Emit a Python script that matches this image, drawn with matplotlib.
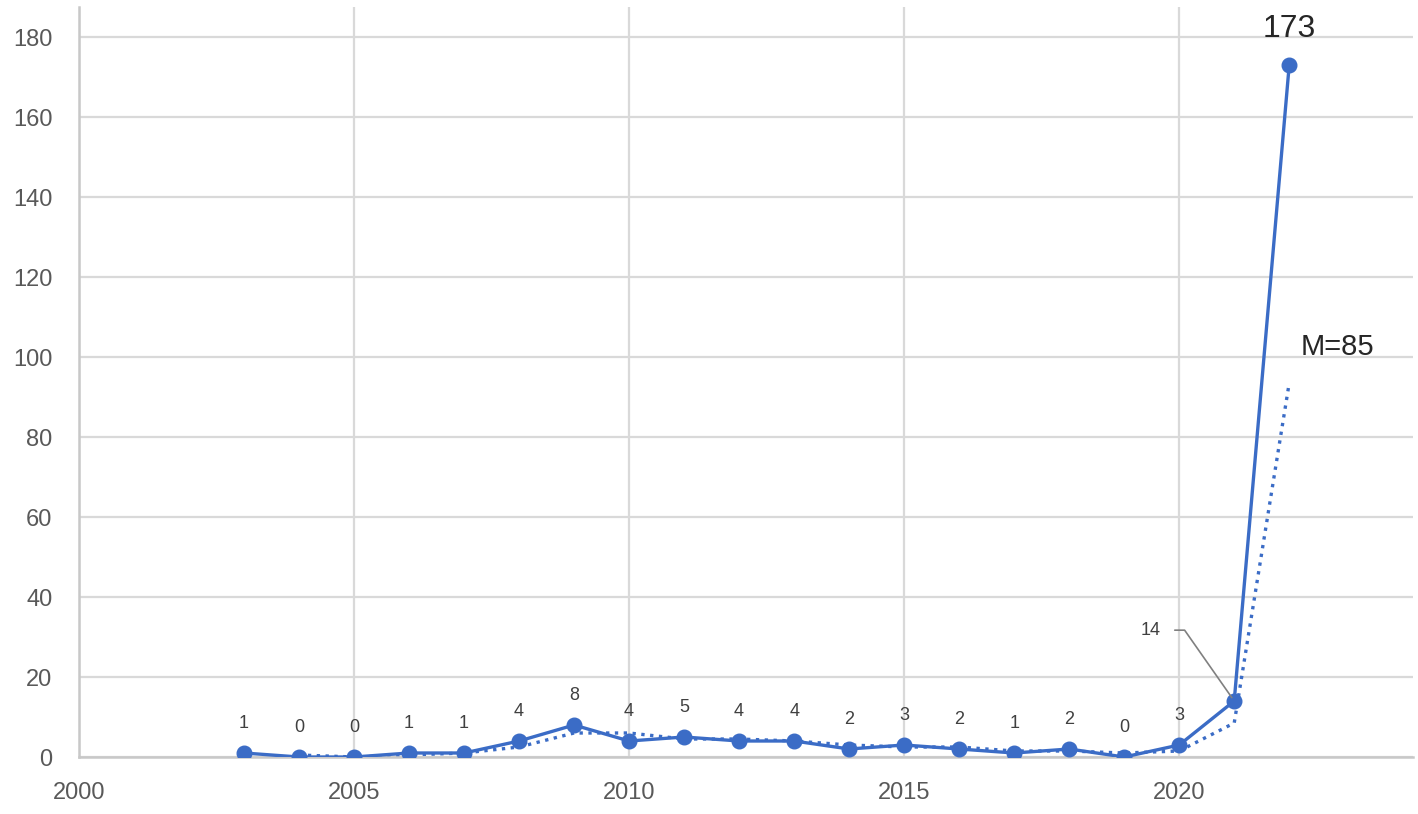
import numpy as np
from matplotlib import pyplot as plt

# 연도별 건수
years = [2003, 2004, 2005, 2006, 2007, 2008, 2009, 2010, 2011, 2012,
         2013, 2014, 2015, 2016, 2017, 2018, 2019, 2020, 2021, 2022]
counts = [1, 0, 0, 1, 1, 4, 8, 4, 5, 4, 4, 2, 3, 2, 1, 2, 0, 3, 14, 173]
# 점선 (이동평균) 값
ma_years = years[1:]
ma_values = [0.5, 0, 0.5, 1, 2.5, 6, 6, 4.5, 4.5, 4, 3, 2.5, 2.5, 1.5, 1.5, 1, 1.5, 8.5, 93.5]
xticks = [2000, 2005, 2010, 2015, 2020]
yticks = [0, 20, 40, 60, 80, 100, 120, 140, 160, 180]

blue = '#3b6cc6'
plt.rcParams['font.family'] = ['Liberation Sans', 'DejaVu Sans']

fig = plt.figure(figsize=(14.18, 8.14), dpi=100)
ax = fig.add_axes([79/1418, 57/814, (1413-79)/1418, (757-7)/814])
ax.set_xlim(2000, 2024.25)
ax.set_ylim(0, 187.5)

ax.set_xticks(xticks)
ax.set_yticks(yticks)
ax.grid(True, color='#d9d9d9', linewidth=1.6)
ax.set_axisbelow(True)
for s in ['top', 'right']:
    ax.spines[s].set_visible(False)
for s in ['left', 'bottom']:
    ax.spines[s].set_color('#c8c8c8')
    ax.spines[s].set_linewidth(1.8)
ax.tick_params(length=0, labelsize=17, labelcolor='#595959')
ax.tick_params(axis='y', pad=19)
ax.tick_params(axis='x', pad=18)

ax.plot(ma_years, ma_values, linestyle=':', color=blue, linewidth=2.4, zorder=2)
ax.plot(years, counts, color=blue, linewidth=2.4, marker='o', markersize=10.5, zorder=3)

for x, y in zip(years, counts):
    if y in (14, 173):
        continue
    ax.annotate(str(y), (x, y), xytext=(0, 21.6), textcoords='offset points',
                ha='center', va='center', fontsize=13, color='#404040')

ax.annotate('173', (years[-1], counts[-1]), xytext=(0, 26), textcoords='offset points',
            ha='center', va='center', fontsize=23, color='#262626')
ax.annotate('14', (years[-2], counts[-2]), xytext=(-60, 51), textcoords='offset points',
            ha='center', va='center', fontsize=13, color='#404040',
            arrowprops=dict(arrowstyle='-', color='#808080', linewidth=1.2,
                            connectionstyle='angle,angleA=0,angleB=125,rad=0',
                            shrinkA=8, shrinkB=3))
ax.text(2022.2, 102.5, 'M=85', fontsize=21, color='#262626', ha='left', va='center')

fig.savefig('out.png', dpi=100)
